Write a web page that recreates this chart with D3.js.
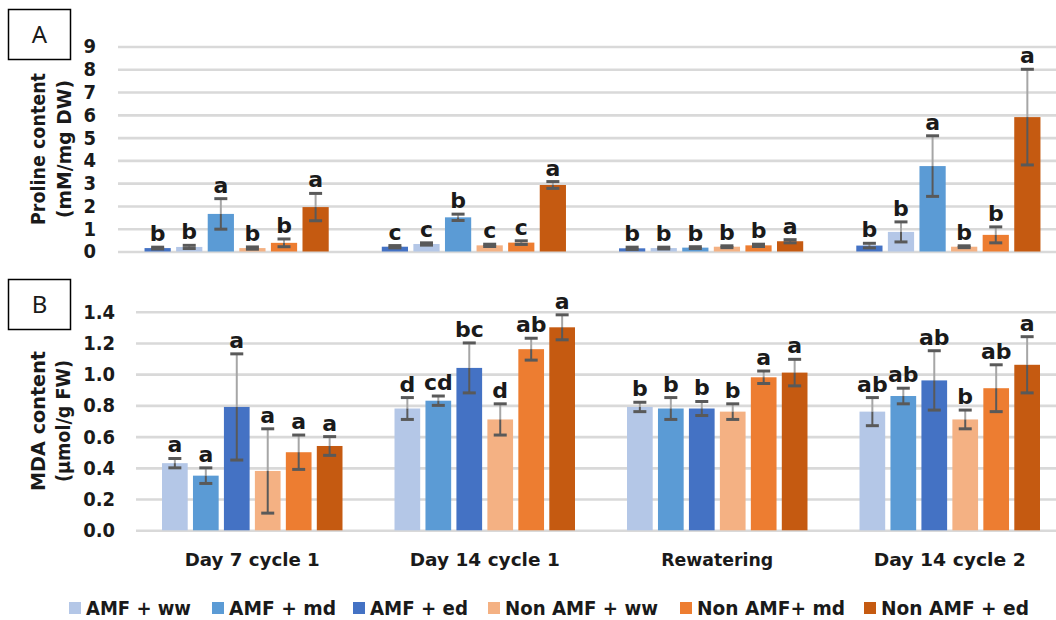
<!DOCTYPE html>
<html>
<head>
<meta charset="utf-8">
<script src="https://cdn.jsdelivr.net/npm/d3@7/dist/d3.min.js"></script>
<style>
  html, body { margin: 0; padding: 0; background: #fff; }
  svg { display: block; }
  text { font-family: "DejaVu Sans", sans-serif; fill: #1a1a1a; }
</style>
</head>
<body>
<svg id="chart" width="1056" height="620"></svg>
<script>
// Sampling stages (x-axis groups)
const categories = ["Day 7 cycle 1", "Day 14 cycle 1", "Rewatering", "Day 14 cycle 2"];

// Treatments, legend order
const treatments = ["AMF + ww", "AMF + md", "AMF + ed", "Non AMF + ww", "Non AMF+ md", "Non AMF + ed"];
const treatmentColors = ["#B4C7E7", "#5B9BD5", "#4472C4", "#F4B183", "#ED7D31", "#C55A11"];

// Panel A bar fills, in bar order within each group
const prolineColors = ["#4472C4", "#B4C7E7", "#5B9BD5", "#F4B183", "#ED7D31", "#C55A11"];

// Panel A: proline content (mM/mg DW), one row per stage
const prolineMean = [
  [0.15, 0.20, 1.65, 0.15, 0.38, 1.95],
  [0.21, 0.33, 1.50, 0.27, 0.39, 2.92],
  [0.14, 0.15, 0.17, 0.21, 0.27, 0.45],
  [0.26, 0.86, 3.75, 0.21, 0.73, 5.90]
];
const prolineErr = [
  [0.04, 0.07, 0.67, 0.05, 0.17, 0.60],
  [0.05, 0.05, 0.14, 0.05, 0.08, 0.15],
  [0.05, 0.04, 0.04, 0.04, 0.05, 0.07],
  [0.10, 0.44, 1.33, 0.04, 0.35, 2.10]
];
const prolineLetters = [
  ["b", "b", "a", "b", "b", "a"],
  ["c", "c", "b", "c", "c", "a"],
  ["b", "b", "b", "b", "b", "a"],
  ["b", "b", "a", "b", "b", "a"]
];
const prolineTicks = [0, 1, 2, 3, 4, 5, 6, 7, 8, 9];

// Panel B: MDA content (µmol/g FW)
const mdaMean = [
  [0.43, 0.35, 0.79, 0.38, 0.50, 0.54],
  [0.78, 0.83, 1.04, 0.71, 1.16, 1.30],
  [0.79, 0.78, 0.78, 0.76, 0.98, 1.01],
  [0.76, 0.86, 0.96, 0.71, 0.91, 1.06]
];
const mdaErr = [
  [0.03, 0.05, 0.34, 0.27, 0.11, 0.06],
  [0.07, 0.03, 0.16, 0.10, 0.07, 0.08],
  [0.03, 0.07, 0.045, 0.05, 0.04, 0.085],
  [0.09, 0.05, 0.19, 0.06, 0.15, 0.18]
];
const mdaLetters = [
  ["a", "a", "a", "a", "a", "a"],
  ["d", "cd", "bc", "d", "ab", "a"],
  ["b", "b", "b", "b", "a", "a"],
  ["ab", "ab", "ab", "b", "ab", "a"]
];
const mdaTicks = [0, 0.2, 0.4, 0.6, 0.8, 1.0, 1.2, 1.4];

const svg = d3.select("#chart");

function drawPanel(opt) {
  const g = svg.append("g");
  const x = d3.scaleBand().domain(categories).range([opt.x0, opt.x1]);
  const xi = d3.scaleBand().domain(d3.range(6)).range([0, x.bandwidth()])
    .paddingInner(0.17).paddingOuter(0.84);
  const y = d3.scaleLinear().domain(opt.domain).range([opt.y0, opt.y1]);

  // gridlines + tick labels
  const axis = d3.axisLeft(y).tickValues(opt.ticks).tickFormat(opt.fmt)
    .tickSize(-(opt.x1 - opt.x0)).tickPadding(opt.pad);
  const ag = g.append("g").attr("transform", `translate(${opt.x0},0)`).call(axis);
  ag.select(".domain").remove();
  ag.selectAll(".tick line").attr("stroke", "#d9d9d9").attr("stroke-width", 2.6);
  ag.selectAll(".tick text")
    .style("font-family", "'Liberation Sans Narrow', 'DejaVu Sans Condensed', sans-serif")
    .style("font-weight", "bold").style("font-size", "20px").attr("fill", "#1a1a1a");

  const rows = categories.map((c, ci) => opt.mean[ci].map((m, si) => ({
    c, si, m, e: opt.err[ci][si], l: opt.letters[ci][si]
  }))).flat();

  const bx = d => x(d.c) + xi(d.si);
  const bw = xi.bandwidth();

  g.append("g").selectAll("rect").data(rows).join("rect")
    .attr("x", bx).attr("width", bw)
    .attr("y", d => y(d.m)).attr("height", d => y(0) - y(d.m))
    .attr("fill", d => opt.colors[d.si]);

  const eb = g.append("g").selectAll("g").data(rows).join("g")
    .attr("transform", d => `translate(${bx(d) + bw / 2},0)`);
  // part of the whisker above the bar
  eb.append("line").attr("y1", d => y(d.m)).attr("y2", d => y(d.m + d.e))
    .attr("stroke", "#a6a6a6").attr("stroke-width", 2);
  // part of the whisker inside the bar
  eb.append("line").attr("y1", d => y(d.m - d.e)).attr("y2", d => y(d.m))
    .attr("stroke", "#595959").attr("stroke-width", 2);
  eb.append("line").attr("x1", -6.5).attr("x2", 6.5)
    .attr("y1", d => y(d.m + d.e)).attr("y2", d => y(d.m + d.e))
    .attr("stroke", "#595959").attr("stroke-width", 3);
  eb.append("line").attr("x1", -6.5).attr("x2", 6.5)
    .attr("y1", d => y(d.m - d.e)).attr("y2", d => y(d.m - d.e))
    .attr("stroke", "#595959").attr("stroke-width", 3);

  // significance letters
  eb.append("text").attr("text-anchor", "middle")
    .attr("y", d => y(d.m + d.e) - 6)
    .style("font-weight", "bold").style("font-size", "22px")
    .text(d => d.l);

  // rotated axis title (two lines)
  opt.title.forEach((t, i) => {
    g.append("text")
      .attr("transform", `translate(${opt.titleX[i]},${(opt.y0 + opt.y1) / 2}) rotate(-90)`)
      .attr("text-anchor", "middle").attr("dy", "0.35em")
      .attr("textLength", opt.titleLen[i]).attr("lengthAdjust", "spacingAndGlyphs")
      .style("font-weight", "bold").style("font-size", "19px")
      .text(t);
  });

  // panel tag box
  g.append("rect").attr("x", 8.5).attr("y", opt.tagY + 0.5).attr("width", 62).attr("height", 50)
    .attr("fill", "none").attr("stroke", "#000").attr("stroke-width", 1.5);
  g.append("text").attr("x", 39.5).attr("y", opt.tagY + 26).attr("dy", "0.35em")
    .attr("text-anchor", "middle")
    .style("font-family", "'Noto Sans', sans-serif").style("font-size", "24px")
    .text(opt.tag);

  return { x, y };
}

drawPanel({
  x0: 118, x1: 1067, y0: 251.5, y1: 46.5, domain: [0, 9],
  ticks: prolineTicks, fmt: d3.format("d"), pad: 22,
  mean: prolineMean, err: prolineErr, letters: prolineLetters, colors: prolineColors,
  title: ["Proline content", "(mM/mg DW)"], titleX: [38, 64], titleLen: [152, 138],
  tag: "A", tagY: 9
});

const pB = drawPanel({
  x0: 136, x1: 1066, y0: 530.3, y1: 311.7, domain: [0, 1.4],
  ticks: mdaTicks, fmt: d3.format(".1f"), pad: 21,
  mean: mdaMean, err: mdaErr, letters: mdaLetters, colors: treatmentColors,
  title: ["MDA content", "(µmol/g FW)"], titleX: [38, 63], titleLen: [140, 122],
  tag: "B", tagY: 279
});

// category labels under panel B
const catLen = [135, 150, 112, 152];
svg.append("g").selectAll("text").data(categories).join("text")
  .attr("x", d => pB.x(d) + pB.x.bandwidth() / 2).attr("y", 566)
  .attr("text-anchor", "middle")
  .attr("textLength", (d, i) => catLen[i]).attr("lengthAdjust", "spacingAndGlyphs")
  .style("font-size", "18px").style("font-weight", "bold").attr("fill", "#262626")
  .text(d => d);

// legend
const legendX = [69, 212, 353, 488, 680, 864];
const legendLen = [105, 107, 98, 153, 148, 148];
const lg = svg.append("g").selectAll("g").data(treatments).join("g")
  .attr("transform", (d, i) => `translate(${legendX[i]},602)`);
lg.append("rect").attr("width", 12).attr("height", 12)
  .attr("fill", (d, i) => treatmentColors[i]);
lg.append("text").attr("x", 17).attr("y", 6).attr("dy", "0.36em")
  .attr("textLength", (d, i) => legendLen[i]).attr("lengthAdjust", "spacingAndGlyphs")
  .style("font-size", "19px").style("font-weight", "bold")
  .text(d => d);
</script>
</body>
</html>
